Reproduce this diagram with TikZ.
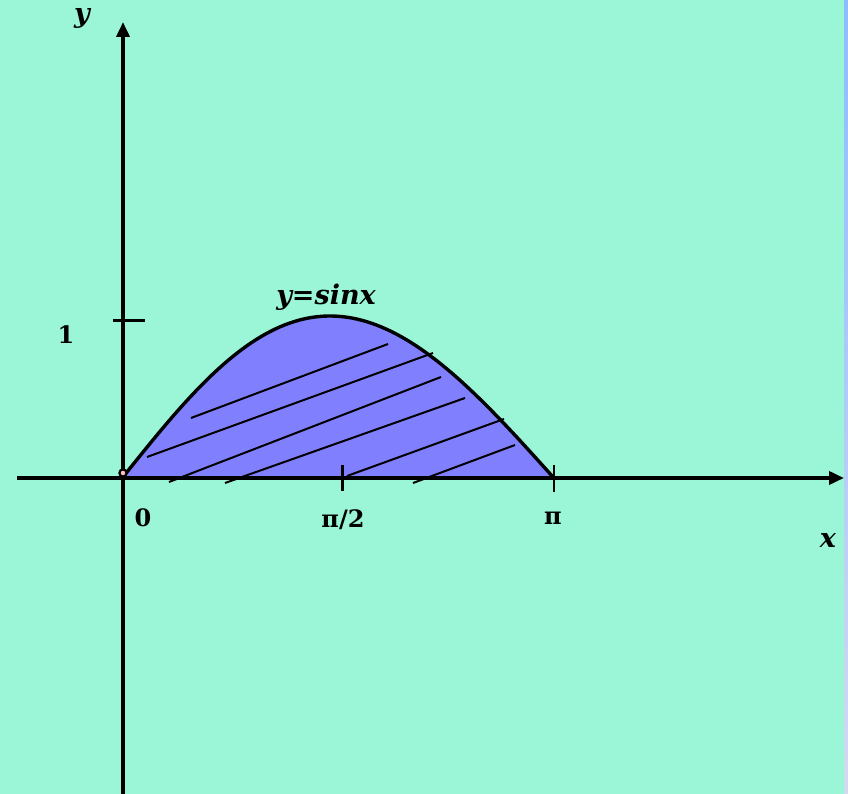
\documentclass[tikz,border=0pt]{standalone}
\usepackage{fontspec}
\setmainfont{DejaVu Serif}
\usetikzlibrary{arrows.meta}
\definecolor{bg}{RGB}{155,245,215}
\definecolor{areafill}{RGB}{128,128,255}
\definecolor{stripA}{RGB}{140,188,255}
\definecolor{stripB}{RGB}{212,218,240}
\begin{document}
\begin{tikzpicture}[x=1pt,y=-1pt,
  axis/.style={line width=3.6pt,-{Triangle[length=15pt,width=13pt]}},
  tickmark/.style={line width=3pt},
  hatch/.style={line width=2pt},
  lbl/.style={font=\bfseries\fontsize{24}{26}\selectfont,inner sep=0pt},
  ilbl/.style={font=\bfseries\itshape\fontsize{27}{28}\selectfont,inner sep=0pt}]
\useasboundingbox (0,0) rectangle (848,794);
\fill[bg] (0,0) rectangle (848,794);
\shade[top color=stripA,bottom color=stripB] (844,0) rectangle (848,794);
% area
\fill[areafill] (123,477) -- plot[domain=0:180,samples=90,variable=\t] ({123+\t/180*430-8*sin(\t)},{477-161*sin(\t)}) -- cycle;
% hatch lines
\draw[hatch] (191,418) -- (388,344);
\draw[hatch] (147,457) -- (433,353);
\draw[hatch] (169,482) -- (441,377);
\draw[hatch] (225,483) -- (465,398);
\draw[hatch] (347,476) -- (504,419);
\draw[hatch] (413,483) -- (515,445);
% axes
\coordinate (xs) at (17,478);
\coordinate (xe) at (844,478);
\coordinate (ys) at (123,794);
\coordinate (ye) at (123,22);
\draw[axis] (xs) -- (xe);
\draw[axis] (ys) -- (ye);
% curve
\draw[line width=3.4pt,line join=round] plot[domain=0:180,samples=90,variable=\t] ({123+\t/180*430-8*sin(\t)},{477-161*sin(\t)});
% ticks
\draw[tickmark] (113,320) -- (145,320);
\draw[tickmark] (342,465) -- (342,491);
\draw[line width=2pt] (554,465) -- (554,492);
% origin circle
\draw[line width=2.2pt,fill=white!75!red] (123,473) circle (3.6pt);
% labels
\node[ilbl] (ylab) at (82,18) {y};
\node[ilbl] (xlab) at (828,540) {x};
\node[lbl] (one) at (66,335) {1};
\node[lbl] (zero) at (143,518) {0};
\node[lbl] (pihalf) at (343,520) {π/2};
\node[lbl] (pi) at (553,518) {π};
\node[ilbl] (fn) at (326,297) {y=sinx};
\end{tikzpicture}
\end{document}
